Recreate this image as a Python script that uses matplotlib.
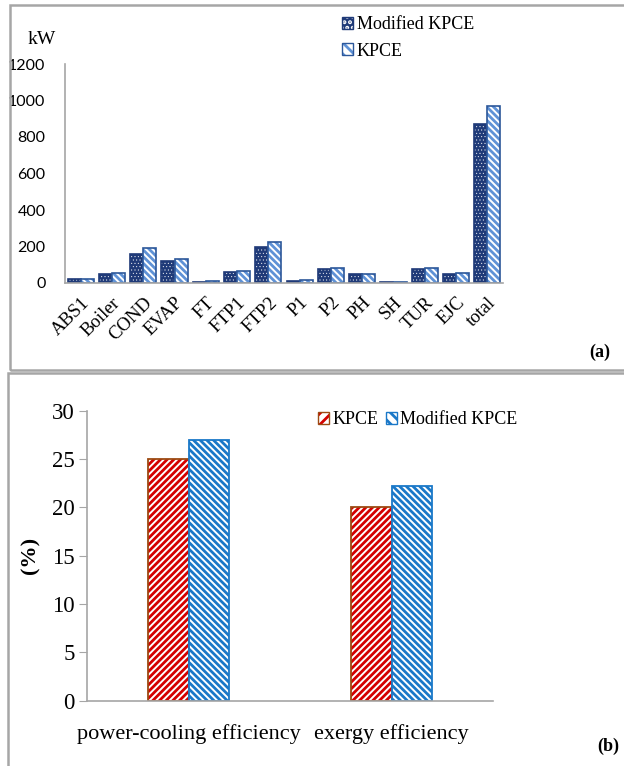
import numpy as np
import matplotlib
matplotlib.use("Agg")
import matplotlib.pyplot as plt
from matplotlib.patches import Patch, Rectangle

# data (a): exergy destruction per component, kW
components = ['ABS1', 'Boiler', 'COND', 'EVAP', 'FT', 'FTP1', 'FTP2', 'P1', 'P2',
              'PH', 'SH', 'TUR', 'EJC', 'total']
modified_kpce = [20, 50, 160, 122, 8, 62, 200, 13, 78, 49, 5, 78, 48, 870]
kpce = [24, 54, 194, 131, 10, 67, 227, 15, 80, 52, 5, 81, 53, 970]

# data (b): efficiencies, %
eff_labels = ['power-cooling efficiency', 'exergy efficiency']
eff_kpce = [25.0, 20.0]
eff_modified = [27.0, 22.2]

serif = 'Liberation Serif'
plt.rcParams['hatch.linewidth'] = 2.0

fig = plt.figure(figsize=(6.24, 7.66), dpi=100)
W, H = 624.0, 766.0

# panel frames
fig.patches.append(Rectangle((10 / W, 1 - 370 / H), 1.0, (370 - 5) / H, transform=fig.transFigure,
                             fill=False, edgecolor='#a6a6a6', linewidth=1.8, zorder=0))
fig.patches.append(Rectangle((8 / W, -0.01), 1.0, 1 - 373 / H + 0.01, transform=fig.transFigure,
                             fill=False, edgecolor='#a6a6a6', linewidth=1.8, zorder=0))

navy = '#1f3a78'
lblue = '#5f92d6'
edge_b = '#2c579a'
dots = '.....'
back = '\\' * 5
fwd = '/' * 5

# ---------- (a) ----------
ax1 = fig.add_axes([65 / W, 1 - 283 / H, 438 / W, (283 - 64) / H])
x = np.arange(len(components))
bw = 0.42
with plt.rc_context({'hatch.linewidth': 0.3}):
    ax1.bar(x - bw / 2, modified_kpce, bw, color=navy, edgecolor='white', hatch=dots, linewidth=0)
    h_mod = (Patch(facecolor=navy, edgecolor='white', hatch='...', linewidth=0),
             Patch(fill=False, edgecolor=navy, linewidth=1))
ax1.bar(x - bw / 2, modified_kpce, bw, fill=False, edgecolor=navy, linewidth=1.2)
ax1.bar(x + bw / 2, kpce, bw, color='white', edgecolor=lblue, hatch=back, linewidth=0)
ax1.bar(x + bw / 2, kpce, bw, fill=False, edgecolor=edge_b, linewidth=1.2)
ax1.set_xlim(-0.5, len(components) - 0.5)
ax1.set_ylim(0, 1200)
ax1.set_yticks(range(0, 1201, 200))
ax1.tick_params(axis='y', length=0, labelsize=11.5, pad=14)
for t in ax1.get_yticklabels():
    t.set_family('Lato')
ax1.set_xticks(x)
ax1.set_xticklabels(components, rotation=45, ha='right', rotation_mode='anchor',
                    family=serif, fontsize=13.5)
ax1.tick_params(axis='x', length=0, pad=8)
for s in ['top', 'right']:
    ax1.spines[s].set_visible(False)
for s in ['left', 'bottom']:
    ax1.spines[s].set_color('#a6a6a6')
    ax1.spines[s].set_linewidth(1.2)
fig.text(42 / W, 1 - 40 / H, 'kW', family=serif, fontsize=14, ha='center', va='center')
h_k = (Patch(facecolor='white', edgecolor=lblue, hatch='\\\\\\', linewidth=0),
       Patch(fill=False, edgecolor=edge_b, linewidth=1))
fig.legend([h_mod, h_k], ['Modified KPCE', 'KPCE'], loc='center left',
           bbox_to_anchor=(335 / W, 1 - 38 / H), frameon=False,
           prop={'family': serif, 'size': 13}, handlelength=0.6, handleheight=0.6,
           handletextpad=0.2, labelspacing=0.5, borderaxespad=0)
fig.text(600 / W, 1 - 352 / H, '(a)', family=serif, fontsize=13, fontweight='bold',
         ha='center', va='center')

# ---------- (b) ----------
red = '#d40000'
red_edge = '#9c4a12'
blue = '#1a78c8'
ax2 = fig.add_axes([87 / W, 1 - 700.7 / H, 406 / W, (700.7 - 410.7) / H])
x2 = np.arange(len(eff_labels))
bw2 = 0.2
ax2.bar(x2 - bw2 / 2, eff_kpce, bw2, color='white', edgecolor=red, hatch=fwd, linewidth=0)
ax2.bar(x2 - bw2 / 2, eff_kpce, bw2, fill=False, edgecolor=red_edge, linewidth=1.3)
ax2.bar(x2 + bw2 / 2, eff_modified, bw2, color='white', edgecolor=blue, hatch=back, linewidth=0)
ax2.bar(x2 + bw2 / 2, eff_modified, bw2, fill=False, edgecolor=blue, linewidth=1.3)
ax2.set_xlim(-0.5, 1.5)
ax2.set_ylim(0, 30)
ax2.set_yticks(range(0, 31, 5))
ax2.tick_params(axis='y', length=6, color='#a6a6a6', labelsize=16.5, pad=3)
for t in ax2.get_yticklabels():
    t.set_family(serif)
ax2.set_xticks(x2)
ax2.set_xticklabels(eff_labels, family=serif, fontsize=16)
ax2.tick_params(axis='x', length=0, pad=17)
for s in ['top', 'right']:
    ax2.spines[s].set_visible(False)
for s in ['left', 'bottom']:
    ax2.spines[s].set_color('#a6a6a6')
    ax2.spines[s].set_linewidth(1.2)
ax2.set_ylabel('(%)', family=serif, fontsize=16, fontweight='bold', labelpad=8)
hk = (Patch(facecolor='white', edgecolor=red, hatch='///', linewidth=0),
      Patch(fill=False, edgecolor=red_edge, linewidth=1))
hm = (Patch(facecolor='white', edgecolor=blue, hatch='\\\\\\', linewidth=0),
      Patch(fill=False, edgecolor=blue, linewidth=1))
fig.legend([hk, hm], ['KPCE', 'Modified KPCE'], loc='center left', ncol=2,
           bbox_to_anchor=(311 / W, 1 - 420 / H), frameon=False,
           prop={'family': serif, 'size': 13}, handlelength=0.6, handleheight=0.6,
           handletextpad=0.2, columnspacing=0.4, borderaxespad=0)
fig.text(608 / W, 1 - 746 / H, '(b)', family=serif, fontsize=13, fontweight='bold',
         ha='center', va='center')

fig.savefig('out.png', dpi=100)
